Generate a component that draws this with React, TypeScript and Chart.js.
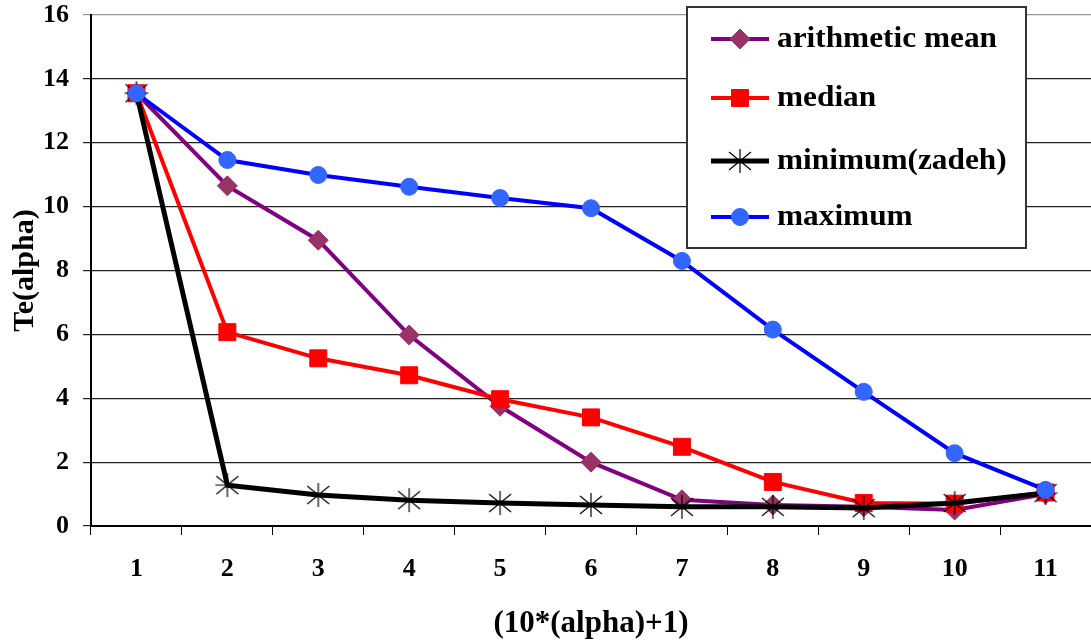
import React, { useEffect, useRef } from 'react';
import { Chart, registerables } from 'chart.js';
import { drawPoint } from 'chart.js/helpers';

Chart.register(...registerables);

const categories = ['1', '2', '3', '4', '5', '6', '7', '8', '9', '10', '11'];
const meanValues = [13.55, 10.65, 8.95, 5.98, 3.75, 2.0, 0.82, 0.66, 0.6, 0.5, 1.0];
const medianValues = [13.55, 6.07, 5.25, 4.72, 3.97, 3.4, 2.48, 1.38, 0.72, 0.7, 1.05];
const minimumValues = [13.55, 1.28, 0.97, 0.81, 0.72, 0.66, 0.6, 0.6, 0.56, 0.72, 1.03];
const maximumValues = [13.55, 11.46, 10.99, 10.62, 10.27, 9.95, 8.3, 6.15, 4.2, 2.28, 1.13];
const seriesLabels = ['arithmetic mean', 'median', 'minimum(zadeh)', 'maximum'];
const xTitle = '(10*(alpha)+1)';
const yTitle = 'Te(alpha)';

const SERIF = '"Liberation Serif", "Times New Roman", serif';

function makeAsterisk(): HTMLCanvasElement {
  const c = document.createElement('canvas');
  c.width = 26;
  c.height = 26;
  const g = c.getContext('2d') as CanvasRenderingContext2D;
  g.strokeStyle = '#000000';
  g.lineWidth = 1.2;
  g.beginPath();
  g.moveTo(13, 1);
  g.lineTo(13, 25);
  g.moveTo(2, 4);
  g.lineTo(24, 22);
  g.moveTo(24, 4);
  g.lineTo(2, 22);
  g.moveTo(1, 13);
  g.lineTo(25, 13);
  g.stroke();
  return c;
}

const legendPlugin = {
  id: 'boxLegend',
  afterDraw(chart: any) {
    const ctx = chart.ctx as CanvasRenderingContext2D;
    ctx.save();
    ctx.fillStyle = '#ffffff';
    ctx.fillRect(687, 7, 339, 241);
    ctx.strokeStyle = '#333333';
    ctx.lineWidth = 2;
    ctx.strokeRect(687, 7, 339, 241);
    const rows = [39, 98, 161, 217];
    // legend in series order (datasets are stored reversed for z-order)
    const ds = chart.data.datasets.slice().reverse();
    ds.forEach((d: any, i: number) => {
      const y = rows[i];
      ctx.strokeStyle = d.borderColor;
      ctx.lineWidth = d.borderWidth;
      ctx.beginPath();
      ctx.moveTo(711, y);
      ctx.lineTo(769, y);
      ctx.stroke();
      ctx.fillStyle = d.pointBackgroundColor;
      ctx.strokeStyle = d.pointBorderColor;
      ctx.lineWidth = d.pointBorderWidth;
      drawPoint(ctx, { pointStyle: d.pointStyle, radius: d.pointRadius, rotation: 0, borderWidth: d.pointBorderWidth } as any, 740, y);
      ctx.save();
      ctx.translate(777, y);
      ctx.scale(1.08, 1);
      ctx.fillStyle = '#000000';
      ctx.font = `bold 29px ${SERIF}`;
      ctx.textBaseline = 'middle';
      ctx.textAlign = 'left';
      ctx.fillText(d.label, 0, 1);
      ctx.restore();
    });
    ctx.restore();
  },
};

export default function App() {
  const canvasRef = useRef<HTMLCanvasElement | null>(null);

  useEffect(() => {
    document.body.style.margin = '0';
    document.body.style.overflow = 'hidden';
    document.documentElement.style.overflow = 'hidden';
    const canvas = canvasRef.current;
    if (!canvas) return;
    const asterisk = makeAsterisk();
    const chart = new Chart(canvas, {
      type: 'line',
      data: {
        labels: categories,
        datasets: [
          {
            label: seriesLabels[3],
            data: maximumValues,
            borderColor: '#0000FF',
            borderWidth: 4,
            pointStyle: 'circle',
            pointRadius: 8.5,
            pointBackgroundColor: '#3366FF',
            pointBorderColor: '#3366FF',
            pointBorderWidth: 1,
            tension: 0,
          },
          {
            label: seriesLabels[2],
            data: minimumValues,
            borderColor: '#000000',
            borderWidth: 5,
            pointStyle: asterisk,
            pointRadius: 12,
            pointBackgroundColor: '#000000',
            pointBorderColor: '#000000',
            pointBorderWidth: 1,
            tension: 0,
          },
          {
            label: seriesLabels[1],
            data: medianValues,
            borderColor: '#FF0000',
            borderWidth: 4,
            pointStyle: 'rect',
            pointRadius: 12,
            pointBackgroundColor: '#FF0000',
            pointBorderColor: '#FF0000',
            pointBorderWidth: 1,
            tension: 0,
          },
          {
            label: seriesLabels[0],
            data: meanValues,
            borderColor: '#800080',
            borderWidth: 4,
            pointStyle: 'rectRot',
            pointRadius: 10,
            pointBackgroundColor: '#993366',
            pointBorderColor: '#993366',
            pointBorderWidth: 1,
            tension: 0,
          },
        ],
      },
      options: {
        responsive: false,
        animation: false,
        clip: false,
        layout: { autoPadding: false, padding: { top: 15, right: -5, bottom: 0, left: 0 } },
        plugins: {
          legend: { display: false },
          tooltip: { enabled: false },
        },
        scales: {
          x: {
            type: 'category',
            offset: true,
            afterFit: (s: any) => {
              s.height = 117;
              s.paddingLeft = 0;
              s.paddingRight = 0;
            },
            grid: {
              offset: true,
              drawOnChartArea: false,
              drawTicks: true,
              tickLength: 9,
              color: '#000000',
              lineWidth: 1,
            },
            border: { display: true, color: '#000000', width: 2 },
            ticks: {
              color: '#000000',
              font: { family: SERIF, size: 26, weight: 'bold' },
              padding: 19,
              maxRotation: 0,
            },
            title: {
              display: true,
              text: xTitle,
              color: '#000000',
              font: { family: SERIF, size: 31, weight: 'bold' },
              padding: { top: 0, bottom: 0 },
            },
          },
          y: {
            min: 0,
            max: 16,
            afterFit: (s: any) => {
              s.width = 91;
              s.paddingTop = 0;
              s.paddingBottom = 0;
            },
            grid: {
              drawTicks: true,
              tickLength: 8,
              color: (c: any) => (c.tick && c.tick.value === 16 ? '#999999' : '#222222'),
              lineWidth: 1.2,
            },
            border: { display: true, color: '#000000', width: 2 },
            ticks: {
              stepSize: 2,
              color: '#000000',
              font: { family: SERIF, size: 26, weight: 'bold' },
              padding: 14,
            },
            title: {
              display: true,
              text: yTitle,
              color: '#000000',
              font: { family: SERIF, size: 30, weight: 'bold' },
              padding: { top: 7, bottom: 0 },
            },
          },
        },
      },
      plugins: [legendPlugin],
    } as any);
    return () => chart.destroy();
  }, []);

  return (
    <div style={{ width: 1091, height: 643, overflow: 'hidden' }}>
      <canvas ref={canvasRef} width={1091} height={643} style={{ display: 'block' }} />
    </div>
  );
}
